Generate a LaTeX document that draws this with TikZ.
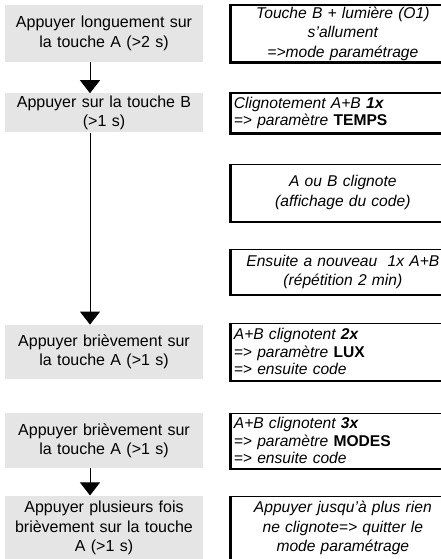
\documentclass[tikz,border=0pt]{standalone}
\usepackage{fontspec}
\setmainfont{Liberation Sans}
\usetikzlibrary{arrows.meta,positioning}

\begin{document}
\begin{tikzpicture}[
    x=1pt, y=1pt,
    >={Triangle[width=20pt,length=13pt]},
    font=\fontsize{16}{19.5}\selectfont,
    press/.style={
		rectangle,
		fill=gray!20,
		align=center,
		text width=190pt,
		inner xsep=4pt,
		inner ysep=0pt
	},
	note/.style={
		rectangle,
		draw=black,
		line width=1.3pt,
		align=center,
		text width=218pt,
		inner xsep=3pt,
		inner ysep=0pt,
		font=\fontsize{15.6}{19.5}\selectfont\itshape
	},
	noteleft/.style={
		note,
		align=left,
		font=\fontsize{15.6}{17.5}\selectfont\itshape
	},
	flow/.style={
		->,
		line width=1pt
	}
  ]

 \useasboundingbox (0,0) rectangle (441,-559);
 \clip (0,0) rectangle (441,-559);

% // the keys to press
 \node [press, minimum height=57pt] (press1) at (104,-33.5)
 {Appuyer longuement sur\\la touche A (>2 s)};
 \node [press, minimum height=39pt, below=31pt of press1] (press2)
 {Appuyer sur la touche B\\(>1 s)};
 \node [press, minimum height=54pt, below=192pt of press2] (press3)
 {Appuyer brièvement sur\\la touche A (>1 s)};
 \node [press, minimum height=55pt, below=34pt of press3] (press4)
 {Appuyer brièvement sur\\la touche A (>1 s)};
 \node [press, minimum height=65pt, below=27pt of press4] (press5)
 {Appuyer plusieurs fois\\brièvement sur la touche\\A (>1 s)};

% // what the device shows
 \node [note, minimum height=57pt, right=27pt of press1] (note1)
 {Touche B + lumière (O1)\\s’allument\\=>mode paramétrage};
 \node [noteleft, minimum height=40pt, right=27pt of press2] (note2)
 {Clignotement A+B \textbf{1x}\\=> paramètre \textbf{\upshape TEMPS}};
 \node [note, minimum height=57pt, below=30pt of note2] (note3)
 {A ou B clignote\\(affichage du code)};
 \node [note, minimum height=45pt, below=27pt of note3] (note4)
 {Ensuite a nouveau\ \ 1x A+B\\(répétition 2 min)};
 \node [noteleft, minimum height=57pt, right=27pt of press3] (note5)
 {A+B clignotent \textbf{2x}\\=> paramètre \textbf{\upshape LUX}\\=> ensuite code};
 \node [noteleft, minimum height=55pt, right=27pt of press4] (note6)
 {A+B clignotent \textbf{3x}\\=> paramètre \textbf{\upshape MODES}\\=> ensuite code};
 \node [note, minimum height=63pt, right=27pt of press5] (note7)
 {Appuyer jusqu’à plus rien\\ne clignote=> quitter le\\mode paramétrage};

% heavier left and bottom edges
 \foreach \i in {1,...,7}
   \draw [line width=2.4pt] (note\i.north west) -- (note\i.south west) -- (note\i.south east);

% // the arrows
 \coordinate (axis) at (90,0);
 \draw [flow] (press1.south -| axis) -- (press2.north -| axis);
 \draw [flow] (press2.south -| axis) -- (press3.north -| axis);
% \draw [flow] (press3.south -| axis) -- (press4.north -| axis);
 \draw [flow] (press4.south -| axis) -- (press5.north -| axis);

\end{tikzpicture}
\end{document}
